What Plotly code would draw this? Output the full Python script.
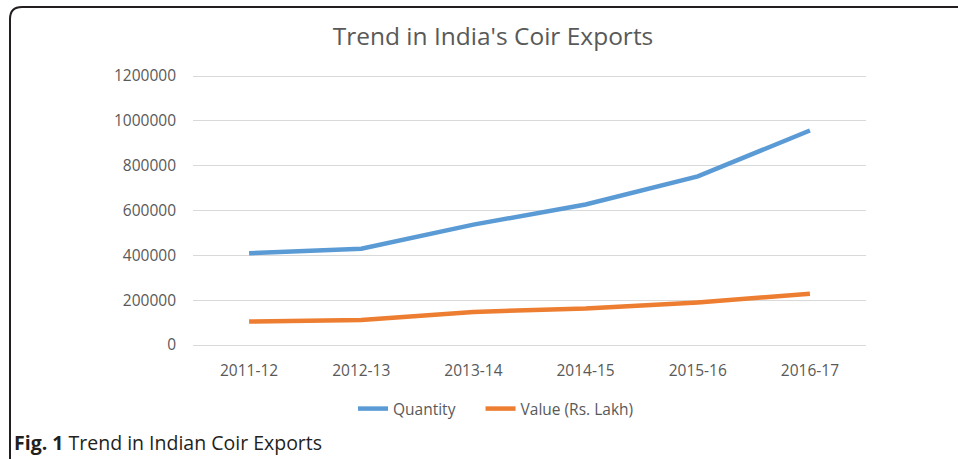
import plotly.graph_objects as go

years = ["2011-12", "2012-13", "2013-14", "2014-15", "2015-16", "2016-17"]
quantity = [409155, 429363, 537040, 626666, 752020, 957045]
value_lakh = [104762, 111631, 147602, 163026, 190105, 228180]
y_ticks = [0, 200000, 400000, 600000, 800000, 1000000, 1200000]

W, H = 958, 459
L, R, T, B = 193, 866, 70, 345
Y_TOP = 1200000 * (B - T) / (345 - 76)

def px(x):
    return (x - L) / (R - L)

def py(y):
    return (B - y) / (B - T)

fig = go.Figure()
fig.add_trace(go.Scatter(x=years, y=quantity, mode="lines", name="Quantity\u00a0\u00a0\u00a0\u00a0\u00a0",
                         line=dict(color="#5B9BD5", width=4.5)))
fig.add_trace(go.Scatter(x=years, y=value_lakh, mode="lines", name="Value (Rs. Lakh)",
                         line=dict(color="#ED7D31", width=4.5)))

font_fam = "Open Sans, Noto Sans, sans-serif"

fig.update_layout(
    width=W, height=H,
    margin=dict(l=L, r=W - R, t=T, b=H - B),
    paper_bgcolor="white", plot_bgcolor="white",
    font=dict(family=font_fam, color="#595959", size=16),
    title=dict(text="Trend in India's Coir Exports", x=px(493), xref="paper",
               xanchor="center", y=1 - 36 / H, yanchor="middle",
               font=dict(size=24.5, color="#595959", family=font_fam)),
    showlegend=True,
    legend=dict(orientation="h", x=px(496), xanchor="center", y=py(409), yanchor="middle",
                font=dict(size=15.5, color="#595959"), bgcolor="rgba(0,0,0,0)"),
    xaxis=dict(type="category", range=[-0.5, 5.5], showgrid=False, showline=False, ticks="",
               tickfont=dict(size=15.5, color="#595959"), fixedrange=True,
               ticklabelstandoff=14),
    yaxis=dict(range=[0, Y_TOP], tickvals=y_ticks, ticktext=[str(v) for v in y_ticks],
               showgrid=True, gridcolor="#D9D9D9", gridwidth=1, zeroline=True,
               zerolinecolor="#D9D9D9", zerolinewidth=1, showline=False, ticks="",
               tickfont=dict(size=15.5, color="#595959"), ticklabelstandoff=16),
)

# Rounded figure border
x0, y0, r = 10, 7, 12
path = (f"M {px(x0)},{py(H + 10)} L {px(x0)},{py(y0 + r)} "
        f"Q {px(x0)},{py(y0)} {px(x0 + r)},{py(y0)} L {px(W + 10)},{py(y0)}")
fig.add_shape(type="path", path=path, xref="paper", yref="paper",
              line=dict(color="#231F20", width=2))

fig.add_annotation(text="<b>Fig. 1</b> Trend in Indian Coir Exports", xref="paper", yref="paper",
                   x=px(12), y=py(442), xanchor="left", yanchor="middle", showarrow=False,
                   font=dict(size=19.5, color="#231F20", family=font_fam))

fig.write_html("out.html")
